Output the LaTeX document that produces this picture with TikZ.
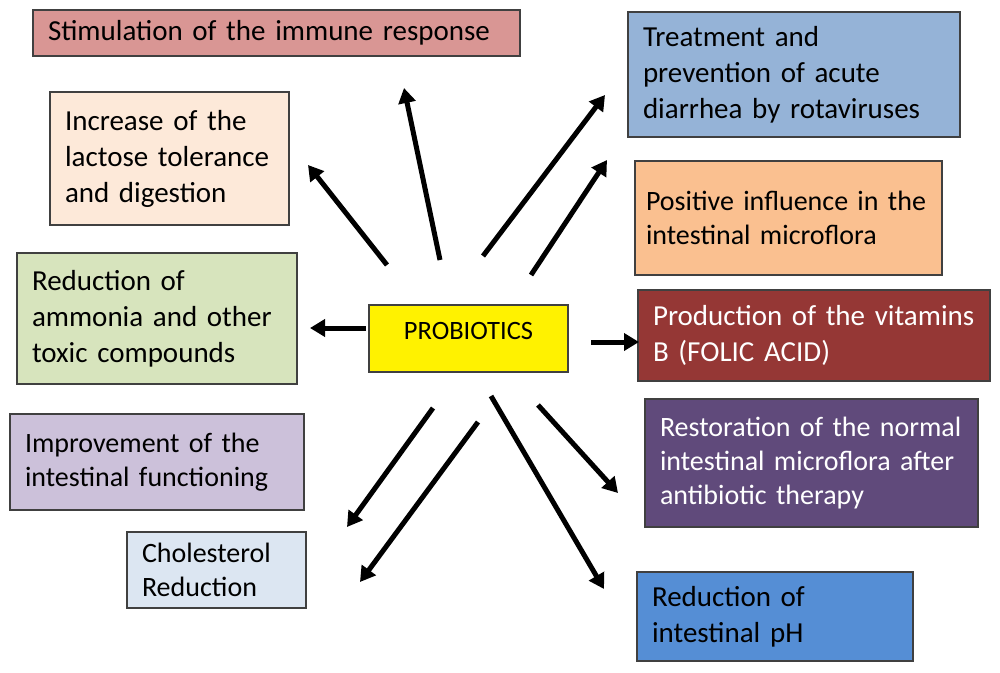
\documentclass[tikz,border=0pt]{standalone}
\usepackage{fontspec}
\setmainfont{Carlito}
\usetikzlibrary{arrows.meta,positioning}

\definecolor{edgegray}{HTML}{404040}
\definecolor{immunered}{HTML}{D99694}
\definecolor{lactosepeach}{HTML}{FDE9D9}
\definecolor{ammoniagreen}{HTML}{D7E4BD}
\definecolor{improvlilac}{HTML}{CCC1DA}
\definecolor{cholblue}{HTML}{DCE6F2}
\definecolor{treatblue}{HTML}{95B3D7}
\definecolor{positorange}{HTML}{FAC090}
\definecolor{vitaminred}{HTML}{953735}
\definecolor{restopurple}{HTML}{604A7B}
\definecolor{phblue}{HTML}{558ED5}

\begin{document}
\begin{tikzpicture}[
    x=1pt, y=-1pt,
    effect/.style={rectangle, draw=edgegray, line width=1.5pt,
        inner xsep=15pt, inner ysep=0pt, align=left,
        font=\fontsize{29}{36}\selectfont},
    small/.style={font=\fontsize{28}{34}\selectfont},
    arrow/.style={line width=5pt, -{Triangle[length=15pt,width=17pt]}}
]
    \useasboundingbox (0,0) rectangle (1000,672);

    % left side
    \node[effect, fill=immunered, text width=457pt, minimum height=46pt]
        (immune) at (276.5,33) {Stimulation of the immune response};
    \node[effect, fill=lactosepeach, text width=209pt, minimum height=133pt]
        (lactose) at (169.5,158.5) {Increase of the\\lactose tolerance\\and digestion};
    \node[effect, fill=ammoniagreen, text width=250pt, minimum height=131pt]
        (ammonia) at (157,318.5) {Reduction of\\ammonia and other\\toxic compounds};
    \node[effect, small, fill=improvlilac, text width=264pt, minimum height=96pt]
        (improv) at (157,462) {Improvement of the\\intestinal functioning};
    \node[effect, small, fill=cholblue, text width=149pt, minimum height=76pt]
        (chol) at (216.5,570) {Cholesterol\\Reduction};

    % centre
    \node[rectangle, draw=edgegray, line width=1.5pt, fill=yellow,
        minimum width=199pt, inner ysep=0pt, text height=34pt, text depth=33pt,
        font=\fontsize{26.5}{30}\selectfont]
        (probio) at (468.5,338.5) {PROBIOTICS};

    % right side
    \node[effect, fill=treatblue, text width=302pt, minimum height=125pt]
        (treat) at (794,74.5) {Treatment and\\prevention of acute\\diarrhea by rotaviruses};
    \node[effect, small, fill=positorange, inner xsep=11pt, text width=285pt, minimum height=114pt]
        (posit) at (788.5,218) {Positive influence in the\\intestinal microflora};
    \node[effect, fill=vitaminred, text=white, text width=322pt, minimum height=91pt]
        (vitam) at (814,335.5) {Production of the vitamins\\B (FOLIC ACID)};
    \node[effect, small, fill=restopurple, text=white, text width=303pt, minimum height=128pt]
        (resto) at (811.5,463) {Restoration of the normal\\intestinal microflora after\\antibiotic therapy};
    \node[effect, fill=phblue, text width=246pt, minimum height=89pt]
        (ph) at (775,616.5) {Reduction of\\intestinal pH};

    % arrow ends
    \coordinate (lactoseS) at (387,265);  \coordinate (lactoseE) at (308,165);
    \coordinate (immuneS)  at (440,260);  \coordinate (immuneE)  at (404,88);
    \coordinate (treatS)   at (483,256);  \coordinate (treatE)   at (605,95);
    \coordinate (positS)   at (531,275);  \coordinate (positE)   at (607,160);
    \coordinate (ammoniaS) at (366,328);  \coordinate (ammoniaE) at (310,328);
    \coordinate (vitamS)   at (591,342);  \coordinate (vitamE)   at (639,342);
    \coordinate (improvS)  at (433,408);  \coordinate (improvE)  at (347,527);
    \coordinate (cholS)    at (478,422);  \coordinate (cholE)    at (360,582);
    \coordinate (phS)      at (491,396);  \coordinate (phE)      at (604,589);
    \coordinate (restoS)   at (538,405);  \coordinate (restoE)   at (618,493);

    \foreach \t in {lactose,immune,treat,posit,ammonia,vitam,improv,chol,ph,resto}
        \draw[arrow] (\t S) -- (\t E);
\end{tikzpicture}
\end{document}
